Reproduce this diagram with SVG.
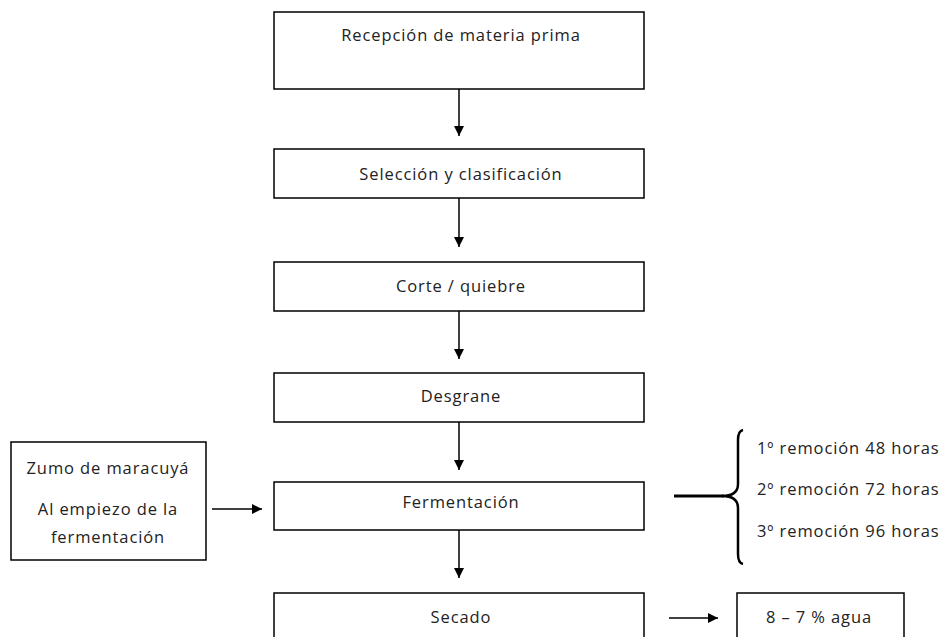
<svg xmlns="http://www.w3.org/2000/svg" width="942" height="637" viewBox="0 0 942 637">
<style>
.box{fill:#fff;stroke:#000;stroke-width:1.5}
.t{font-family:"Open Sans","Liberation Sans",sans-serif;font-size:16.5px;letter-spacing:0.9px;fill:#222;text-anchor:middle}
.tl{font-family:"Open Sans","Liberation Sans",sans-serif;font-size:16.5px;letter-spacing:0.9px;fill:#222;text-anchor:start}
.c{stroke:#000;stroke-width:1.5;fill:none}
</style>
<defs>
<marker id="ah" viewBox="0 0 10 10" refX="10" refY="5" markerWidth="10" markerHeight="10" markerUnits="userSpaceOnUse" orient="auto">
<path d="M0,0 L10,5 L0,10 z" fill="#000"/>
</marker>
</defs>
<rect width="942" height="637" fill="#fff"/>
<g id="n1"><rect class="box" x="274" y="12" width="370" height="77"/><text class="t" x="461" y="41">Recepción de materia prima</text></g>
<g id="n2"><rect class="box" x="274" y="149" width="370" height="49"/><text class="t" x="461" y="180">Selección y clasificación</text></g>
<g id="n3"><rect class="box" x="274" y="262" width="370" height="49"/><text class="t" x="461" y="292">Corte / quiebre</text></g>
<g id="n4"><rect class="box" x="274" y="373" width="370" height="49"/><text class="t" x="461" y="402">Desgrane</text></g>
<g id="n5"><rect class="box" x="274" y="482" width="370" height="48"/><text class="t" x="461" y="508">Fermentación</text></g>
<g id="n6"><rect class="box" x="274" y="593" width="370" height="60"/><text class="t" x="461" y="623">Secado</text></g>
<g id="n7"><rect class="box" x="11" y="442" width="195" height="118"/>
<text class="t" x="108" y="474">Zumo de maracuyá</text>
<text class="t" x="108" y="515">Al empiezo de la</text>
<text class="t" x="108" y="543">fermentación</text></g>
<g id="n8"><rect class="box" x="737" y="593" width="167" height="60"/><text class="t" x="819" y="623">8 – 7 % agua</text></g>
<g id="n9">
<text class="tl" x="757" y="454">1º remoción 48 horas</text>
<text class="tl" x="757" y="495">2º remoción 72 horas</text>
<text class="tl" x="757" y="537">3º remoción 96 horas</text>
</g>
<g id="connectors">
<line class="c" x1="459" y1="89" x2="459" y2="136" marker-end="url(#ah)"/>
<line class="c" x1="459" y1="198" x2="459" y2="247" marker-end="url(#ah)"/>
<line class="c" x1="459" y1="311" x2="459" y2="359" marker-end="url(#ah)"/>
<line class="c" x1="459" y1="422" x2="459" y2="470" marker-end="url(#ah)"/>
<line class="c" x1="459" y1="530" x2="459" y2="578" marker-end="url(#ah)"/>
<line class="c" x1="212" y1="509" x2="262" y2="509" marker-end="url(#ah)"/>
<line class="c" x1="669" y1="618" x2="718" y2="618" marker-end="url(#ah)"/>
<path d="M743 430 Q738 431 738 440 L738 484 Q738 496 722 496 Q738 496 738 508 L738 554 Q738 563 743 564" fill="none" stroke="#000" stroke-width="2.5"/>
<line x1="674" y1="496" x2="724" y2="496" stroke="#000" stroke-width="3"/>
</g>
</svg>
